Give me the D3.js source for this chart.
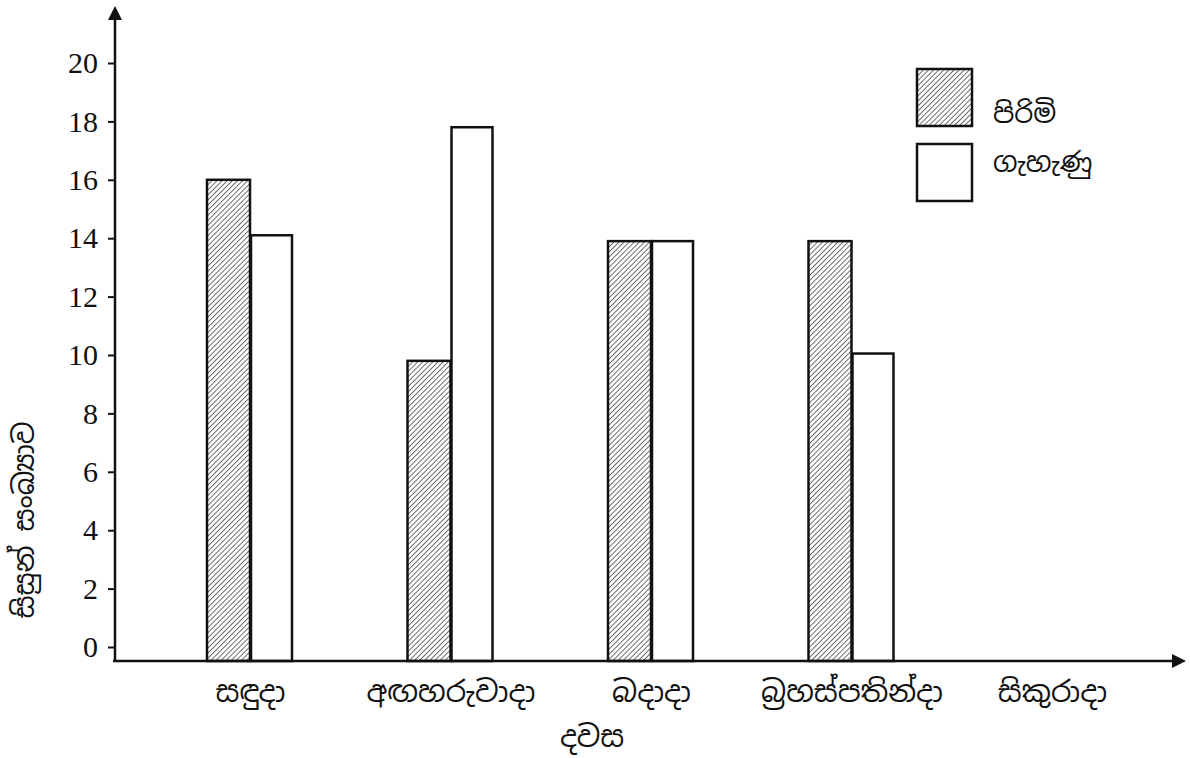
<!DOCTYPE html>
<html><head><meta charset="utf-8">
<script src="https://cdn.jsdelivr.net/npm/d3@7/dist/d3.min.js"></script>
<style>body{margin:0;background:#fff}svg{display:block}</style>
</head><body>
<svg id="c" width="1190" height="758"></svg>
<script>
const categories = ["සඳුදා","අඟහරුවාදා","බදාදා","බ්‍රහස්පතින්දා","සිකුරාදා"];
const maleValues = [16, 9.8, 13.9, 13.9, null];
const femaleValues = [14.1, 17.8, 13.9, 10.05, null];
const seriesNames = ["පිරිමි","ගැහැණු"];
const yTicks = [0,2,4,6,8,10,12,14,16,18,20];
const xTitle = "දවස";
const yTitle = "සිසුන් සංඛ්‍යාව";

const svg = d3.select("#c");
const defs = svg.append("defs");
const pat = defs.append("pattern").attr("id","hatch").attr("patternUnits","userSpaceOnUse")
  .attr("width",3.6).attr("height",3.6).attr("patternTransform","rotate(45)");
pat.append("rect").attr("width",3.6).attr("height",3.6).attr("fill","#fff");
pat.append("line").attr("x1",0).attr("y1",0).attr("x2",0).attr("y2",3.6).attr("stroke","#222").attr("stroke-width",1.3);

const y = d3.scaleLinear().domain([0,20]).range([647,63]);
const x = d3.scalePoint().domain(categories).range([250,1052]);
const baseY = 661, axisX = 115, barW = 43;
const serif = "'Liberation Serif','DejaVu Serif',serif";
const sinh = "'Noto Sans Sinhala','Noto Serif Sinhala','Noto Sans',sans-serif";

// bars
const rows = categories.map((c,i)=>({c, m:maleValues[i], f:femaleValues[i]}));
const g = svg.append("g");
rows.forEach(r=>{
  if(r.m!=null) g.append("rect").attr("x",x(r.c)-barW).attr("y",y(r.m)).attr("width",barW).attr("height",baseY-y(r.m))
    .attr("fill","url(#hatch)").attr("stroke","#111").attr("stroke-width",2.5);
  if(r.f!=null) g.append("rect").attr("x",x(r.c)+1).attr("y",y(r.f)).attr("width",barW-2).attr("height",baseY-y(r.f))
    .attr("fill","#fff").attr("stroke","#111").attr("stroke-width",2.5);
});

// y axis
const ya = svg.append("g").attr("transform",`translate(${axisX},0)`)
  .call(d3.axisLeft(y).tickValues(yTicks).tickSize(7).tickPadding(10));
ya.select(".domain").remove();
ya.selectAll(".tick line").attr("stroke","#111").attr("stroke-width",2);
ya.selectAll(".tick text").style("font-family",serif).style("font-size","30px").attr("fill","#111");

svg.append("line").attr("x1",axisX).attr("x2",axisX).attr("y1",18).attr("y2",baseY+1).attr("stroke","#111").attr("stroke-width",2.5);
svg.append("path").attr("d",`M${axisX},6 L${axisX-7},20 L${axisX+7},20 Z`).attr("fill","#111");

// x axis
svg.append("line").attr("x1",axisX-2).attr("x2",1175).attr("y1",baseY).attr("y2",baseY).attr("stroke","#111").attr("stroke-width",2.5);
svg.append("path").attr("d",`M1186,${baseY} L1172,${baseY-7} L1172,${baseY+7} Z`).attr("fill","#111");

const xa = svg.append("g").attr("transform",`translate(0,${baseY})`)
  .call(d3.axisBottom(x).tickSize(0).tickPadding(0));
xa.select(".domain").remove();
xa.selectAll(".tick text").attr("dy",null).attr("y",41).style("font-family",sinh).style("font-size","29px").attr("fill","#111");

svg.append("text").attr("x",592).attr("y",747).attr("text-anchor","middle")
  .style("font-family",sinh).style("font-size","29px").attr("fill","#111").text(xTitle);
svg.append("text").attr("transform","translate(34,520) rotate(-90)").attr("text-anchor","middle")
  .style("font-family",sinh).style("font-size","28px").attr("fill","#111").text(yTitle);

// legend
const leg = svg.append("g");
const legFills = ["url(#hatch)","#fff"];
const legTextY = [123, 172];
seriesNames.forEach((n,i)=>{
  const top = 69 + i*75;
  leg.append("rect").attr("x",917).attr("y",top).attr("width",55).attr("height",57)
    .attr("fill",legFills[i]).attr("stroke","#111").attr("stroke-width",2.5);
  leg.append("text").attr("x",993).attr("y",legTextY[i]).style("font-family",sinh)
    .style("font-size","27px").attr("fill","#111").text(n);
});
</script>
</body></html>
